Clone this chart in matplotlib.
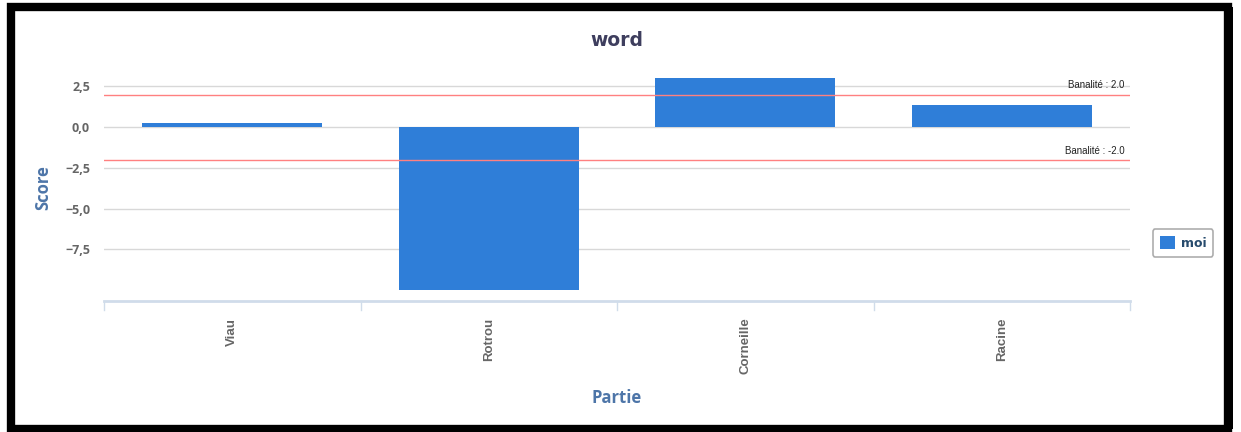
import matplotlib
matplotlib.use('Agg')
import matplotlib.pyplot as plt
from matplotlib.patches import Rectangle, Patch

categories = ['Viau', 'Rotrou', 'Corneille', 'Racine']
scores = [0.25, -10.0, 3.0, 1.35]
banalite = [2.0, -2.0]
yticks = [2.5, 0.0, -2.5, -5.0, -7.5]
ytick_labels = ['2,5', '0,0', '\u22122,5', '\u22125,0', '\u22127,5']

W, H = 1241, 432
fig = plt.figure(figsize=(W / 100, H / 100), dpi=100)
ax = fig.add_axes([104 / W, 1 - 301 / H, (1130 - 104) / W, (301 - 66) / H])

x = list(range(len(categories)))
ax.bar(x, scores, width=0.70, color='#2f7ed8', zorder=3)

ax.set_xlim(-0.5, len(categories) - 0.5)
ax.set_ylim(-10.67, 3.75)

for v in yticks:
    ax.axhline(v, color='#d8d8d8', linewidth=1, zorder=1)
for v in banalite:
    ax.axhline(v, color='#ff8080', linewidth=1, zorder=4)
    ax.text(len(categories) - 0.52, v + 0.25, f'Banalit\u00e9 : {v}', ha='right',
            va='bottom', fontsize=7, family='Liberation Sans', color='#222222', zorder=5)

ax.set_yticks(yticks)
ax.set_yticklabels(ytick_labels, fontsize=9, fontweight='bold', color='#666666',
                   family='Open Sans')
ax.tick_params(axis='y', length=0, pad=10)

ax.set_xticks(x)
ax.set_xticklabels(categories, rotation=90, fontsize=9.5, fontweight='bold',
                   color='#666666', family='Liberation Sans')
ax.tick_params(axis='x', length=0, pad=12)
for b in [i - 0.5 for i in range(len(categories) + 1)]:
    ax.plot([b, b], [-10.67, -11.2], color='#d0dcea', linewidth=1, clip_on=False)

for s in ['top', 'right', 'left']:
    ax.spines[s].set_visible(False)
ax.spines['bottom'].set_color('#d0dcea')
ax.spines['bottom'].set_linewidth(2)

fig.text(617 / W, 1 - 40 / H, 'word', ha='center', va='center', fontsize=13.5,
         fontweight='bold', color='#3e3e5e', family='DejaVu Sans')
fig.text(43 / W, 1 - 188 / H, 'Score', ha='center', va='center', rotation=90,
         fontsize=12, fontweight='bold', color='#4d75a8', family='Open Sans')
fig.text(617 / W, 1 - 398 / H, 'Partie', ha='center', va='center', fontsize=12,
         fontweight='bold', color='#4d75a8', family='Open Sans')

leg = fig.legend(handles=[Patch(facecolor='#2f7ed8', label='moi')],
                 loc='center', bbox_to_anchor=(1183 / W, 1 - 243 / H),
                 frameon=True, fontsize=9, handlelength=1.2, handleheight=1.2,
                 handletextpad=0.5, borderpad=0.55, fancybox=True)
leg.get_frame().set_edgecolor('#999999')
leg.get_frame().set_linewidth(1.2)
for t in leg.get_texts():
    t.set_fontweight('bold')
    t.set_color('#274b6d')

fig.patches.append(Rectangle((11 / W, 1 - 429 / H), (1228 - 11) / W, (429 - 7) / H,
                             transform=fig.transFigure, fill=False,
                             edgecolor='black', linewidth=6))
fig.patches.append(Rectangle((1228 / W, 1 - 429 / H), 5 / W, (429 - 7) / H,
                             transform=fig.transFigure, facecolor='black',
                             edgecolor='none'))

fig.savefig('out.png', dpi=100)
